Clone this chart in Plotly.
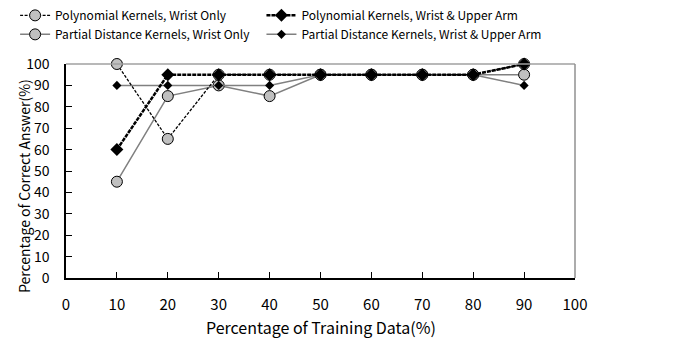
import plotly.graph_objects as go

x_vals = [10, 20, 30, 40, 50, 60, 70, 80, 90]
poly_wrist = [100, 65, 95, 95, 95, 95, 95, 95, 100]
poly_upper = [60, 95, 95, 95, 95, 95, 95, 95, 100]
pd_wrist = [45, 85, 90, 85, 95, 95, 95, 95, 95]
pd_upper = [90, 90, 90, 90, 95, 95, 95, 95, 90]
ticks = list(range(0, 101, 10))

FONT = "Noto Sans CJK JP, DejaVu Sans, sans-serif"

fig = go.Figure()
fig.add_trace(go.Scatter(
    x=x_vals, y=pd_wrist, name="Partial Distance Kernels, Wrist Only",
    mode="lines+markers", line=dict(color="#808080", width=1.5),
    marker=dict(symbol="circle", size=11, color="#c0c0c0", line=dict(color="#000000", width=1)),
    legend="legend", cliponaxis=False))
fig.add_trace(go.Scatter(
    x=x_vals, y=pd_upper, name="Partial Distance Kernels, Wrist & Upper Arm",
    mode="lines+markers", line=dict(color="#808080", width=1.5),
    marker=dict(symbol="diamond", size=7, color="#000000"),
    legend="legend2", cliponaxis=False))
fig.add_trace(go.Scatter(
    x=x_vals, y=poly_wrist, name="Polynomial Kernels, Wrist Only",
    mode="lines+markers", line=dict(color="#000000", width=1.3, dash="3px,1.5px"),
    marker=dict(symbol="circle", size=11, color="#c0c0c0", line=dict(color="#000000", width=1)),
    legend="legend", cliponaxis=False))
fig.add_trace(go.Scatter(
    x=x_vals, y=poly_upper, name="Polynomial Kernels, Wrist & Upper Arm",
    mode="lines+markers", line=dict(color="#000000", width=2.5, dash="4px,1px"),
    marker=dict(symbol="diamond", size=10, color="#000000"),
    legend="legend2", cliponaxis=False))
# invisible helper trace to activate the overlay axis carrying the inside ticks
fig.add_trace(go.Scatter(x=[None], y=[None], yaxis="y2", showlegend=False, hoverinfo="skip"))

fig.add_shape(type="line", xref="paper", yref="paper", x0=0, x1=1, y0=1, y1=1,
              line=dict(color="#a0a0a0", width=1.5))
fig.add_shape(type="line", xref="paper", yref="paper", x0=1, x1=1, y0=0, y1=1,
              line=dict(color="#909090", width=1.5))

fig.add_annotation(text="Percentage of Training Data(%)", xref="paper", yref="paper",
                   x=0.5, y=-49 / 214, xanchor="center", yanchor="middle",
                   showarrow=False, font=dict(family=FONT, size=16))
fig.add_annotation(text="Percentage of Correct Answer(%)", xref="paper", yref="paper",
                   x=-42 / 509, y=(278 - 186) / 214, xanchor="center", yanchor="middle",
                   textangle=-90, showarrow=False, font=dict(family=FONT, size=14))

leg_common = dict(font=dict(family=FONT, size=12, color="#000000"),
                  bgcolor="rgba(0,0,0,0)", itemwidth=30, tracegroupgap=0,
                  xanchor="left", yanchor="top", traceorder="reversed")

fig.update_layout(
    width=673, height=338,
    margin=dict(l=66, r=98, t=64, b=60, autoexpand=False),
    paper_bgcolor="white", plot_bgcolor="white",
    font=dict(family=FONT, size=15, color="#000000"),
    legend=dict(x=-0.1, y=1.295, **leg_common),
    legend2=dict(x=0.384, y=1.295, **leg_common),
    xaxis=dict(range=[0, 100], tickvals=ticks, ticks="inside", ticklen=6,
               tickcolor="#000000", showline=True, linecolor="#000000", linewidth=1.5,
               showgrid=False, zeroline=False, ticklabelstandoff=12),
    yaxis=dict(range=[0, 100], tickvals=ticks,
               ticks="outside", ticklen=12, tickcolor="rgba(255,255,255,0)",
               showline=True, linecolor="#000000", linewidth=1.5,
               showgrid=False, zeroline=False,
               tickfont=dict(family=FONT, size=14)),
    yaxis2=dict(range=[0, 100], tickvals=ticks, overlaying="y", side="left",
                ticks="inside", ticklen=6, tickcolor="#000000",
                showticklabels=False, showline=True, linecolor="#000000", linewidth=1.5,
                showgrid=False, zeroline=False),
)

fig.write_html("out.html")
